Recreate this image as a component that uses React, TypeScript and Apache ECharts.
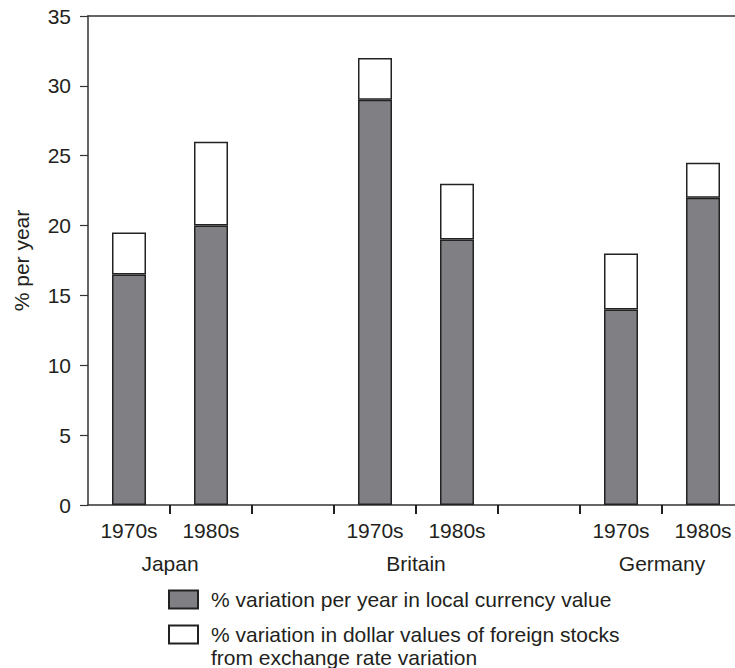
import React, { useEffect, useRef } from "react";
import * as echarts from "echarts";

const categories = ["1970s", "1980s", "", "1970s", "1980s", "", "1970s", "1980s"];
const countryCategories = ["", "Japan", "", "", "Britain", "", "", "Germany", ""];
const localValues: (number | null)[] = [16.5, 20, null, 29, 19, null, 14, 22];
const exchangeValues: (number | null)[] = [3, 6, null, 3, 4, null, 4, 2.5];
const seriesNames = [
  "% variation per year in local currency value",
  "% variation in dollar values of foreign stocks\nfrom exchange rate variation",
];

const FONT = "'Liberation Sans', Arial, Helvetica, sans-serif";
const TEXT = "#231f20";
const LINE = "#333";

export default function App() {
  const ref = useRef<HTMLDivElement>(null);
  useEffect(() => {
    if (!ref.current) return;
    const chart = echarts.init(ref.current, null, { renderer: "svg" });
    chart.setOption({
      animation: false,
      backgroundColor: "#fff",
      textStyle: { fontFamily: FONT, color: TEXT },
      grid: { left: 88, right: -9, top: 16, bottom: 163, containLabel: false, outerBoundsMode: "none" },
      legend: [
        {
          data: [seriesNames[0]],
          orient: "vertical",
          left: 168,
          top: 588,
          padding: 0,
          itemWidth: 29,
          itemHeight: 18,
          icon: "rect",
          selectedMode: false,
          textStyle: { fontSize: 21, color: TEXT, fontFamily: FONT, lineHeight: 23, padding: [0, 0, 0, 8] },
        },
        {
          data: [seriesNames[1]],
          orient: "vertical",
          left: 168,
          top: 600,
          padding: 0,
          itemWidth: 29,
          itemHeight: 18,
          icon: "rect",
          selectedMode: false,
          formatter: (name: string) => "\u00a0\n" + name,
          textStyle: { fontSize: 21, color: TEXT, fontFamily: FONT, lineHeight: 23, padding: [0, 0, 0, 8] },
        },
      ],
      xAxis: [
        {
          type: "category",
          data: categories,
          position: "bottom",
          axisLine: { show: true, lineStyle: { color: LINE, width: 1.5 } },
          axisTick: {
            show: true,
            interval: (i: number) => i > 0,
            length: 9,
            lineStyle: { color: TEXT, width: 2 },
          },
          axisLabel: { interval: 0, fontSize: 21, color: TEXT, fontFamily: FONT, margin: 15 },
        },
        {
          type: "category",
          data: countryCategories,
          position: "bottom",
          boundaryGap: false,
          axisLine: { show: false },
          axisTick: { show: false },
          axisLabel: { interval: 0, fontSize: 21, color: TEXT, fontFamily: FONT, margin: 48 },
        },
        {
          type: "category",
          data: categories,
          position: "top",
          axisLine: { show: true, lineStyle: { color: LINE, width: 1.5 } },
          axisTick: { show: false },
          axisLabel: { show: false },
        },
      ],
      yAxis: {
        type: "value",
        min: 0,
        max: 35,
        interval: 5,
        name: "% per year",
        nameLocation: "middle",
        nameGap: 56,
        nameMoveOverlap: false,
        nameTextStyle: { fontSize: 21, color: TEXT, fontFamily: FONT },
        axisLine: { show: true, lineStyle: { color: LINE, width: 1.5 } },
        axisTick: { show: true, length: 8, lineStyle: { color: LINE, width: 1.2 } },
        axisLabel: { fontSize: 21, color: TEXT, fontFamily: FONT, margin: 17 },
        splitLine: { show: false },
      },
      series: [
        {
          name: seriesNames[0],
          type: "bar",
          stack: "total",
          xAxisIndex: 0,
          barWidth: 34,
          data: localValues,
          itemStyle: { color: "#808084", borderColor: "#222", borderWidth: 1.5 },
        },
        {
          name: seriesNames[1],
          type: "bar",
          stack: "total",
          xAxisIndex: 0,
          barWidth: 34,
          data: exchangeValues,
          itemStyle: { color: "#ffffff", borderColor: "#222", borderWidth: 1.5 },
        },
      ],
    });
    return () => chart.dispose();
  }, []);
  return <div ref={ref} style={{ width: 735, height: 668, position: "absolute", left: 0, top: 0 }} />;
}
